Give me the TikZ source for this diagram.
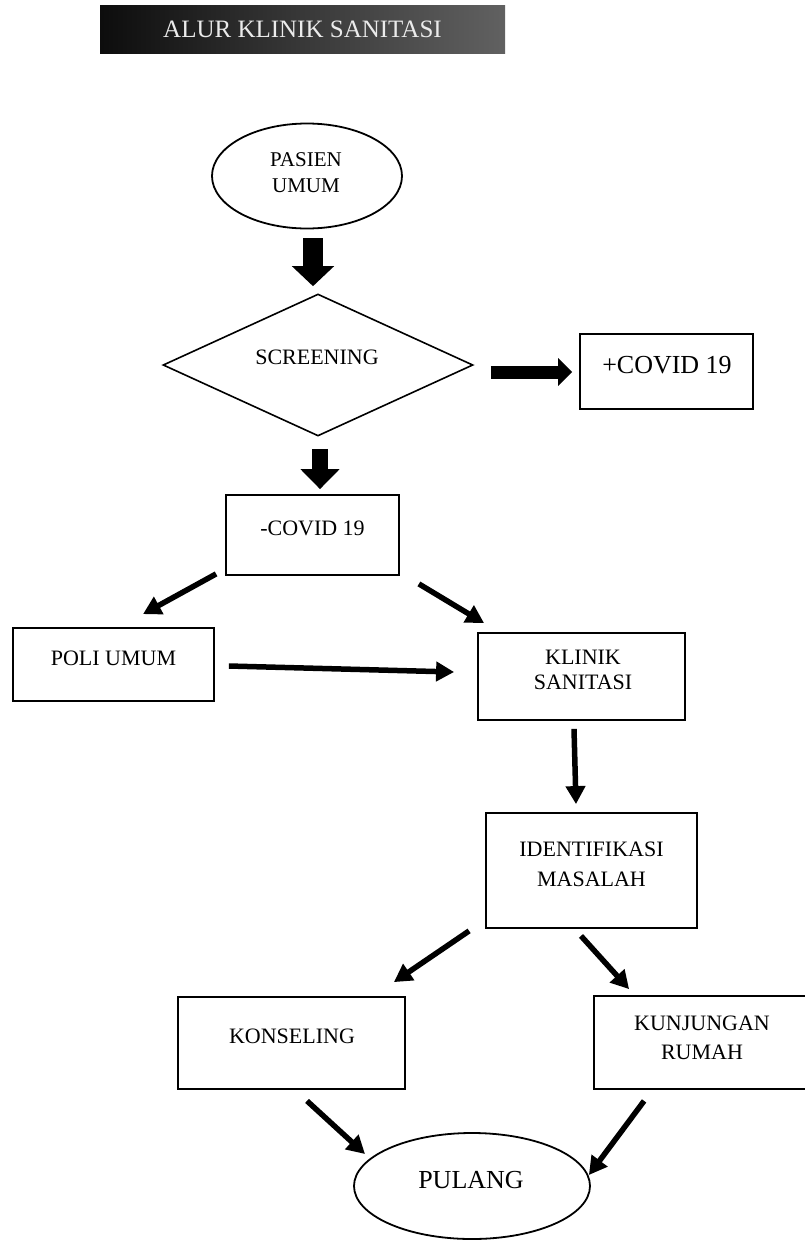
\documentclass[tikz,border=0pt]{standalone}
\usepackage{fontspec}
\setmainfont{Liberation Serif}
\usetikzlibrary{shapes.geometric,arrows.meta,calc}
\begin{document}
\begin{tikzpicture}[x=1pt,y=-1pt,
  box/.style={draw,line width=1.8pt,rectangle,inner sep=0pt},
  oval/.style={draw,line width=1.8pt,ellipse,inner sep=0pt},
  dia/.style={draw,line width=1.6pt,diamond,inner sep=0pt},
  lbl/.style={font=\fontsize{22}{30}\selectfont,align=center,inner sep=0pt},
  big/.style={font=\fontsize{26}{30}\selectfont,align=center,inner sep=0pt},
  thin/.style={line width=5.5pt,-{Triangle[length=18pt,width=19pt]}},
]
\fill[white] (0,0) rectangle (805,1240);
\useasboundingbox (0,0) rectangle (805,1240);

% title banner
\node[rectangle,inner sep=0pt,minimum width=405pt,minimum height=48pt,
      left color=black!95,right color=black!62,middle color=black!78,
      text=white!92!black,font=\fontsize{25}{30}\selectfont] (title) at (302.5,29) {ALUR KLINIK SANITASI};

% shapes
\node[oval,minimum width=190pt,minimum height=105pt] (pas) at (307,176) {};
\node[dia,minimum width=310pt,minimum height=142pt] (scr) at (318,365) {};
\node[box,minimum width=173pt,minimum height=75pt] (cp) at (666.5,371.5) {};
\node[box,minimum width=173pt,minimum height=80pt] (cm) at (312.5,535) {};
\node[box,minimum width=201pt,minimum height=73pt] (pu) at (113.5,664.5) {};
\node[box,minimum width=207pt,minimum height=87pt] (ks) at (581.5,676.5) {};
\node[box,minimum width=211pt,minimum height=115pt] (im) at (591.5,870.5) {};
\node[box,minimum width=227pt,minimum height=92pt] (ko) at (291.5,1043) {};
\node[box,minimum width=216pt,minimum height=93pt] (ku) at (702,1042.5) {};
\node[oval,minimum width=236pt,minimum height=106pt] (pl) at (472,1186) {};

% texts
\node[lbl,font=\fontsize{21}{26}\selectfont] (tpas) at ($(pas.center)+(-1,-3)$) {PASIEN\\UMUM};
\node[lbl] (tscr) at ($(scr.center)+(-1,-8)$) {SCREENING};
\node[big] (tcp) at ($(cp.center)+(0.5,-6.5)$) {+COVID 19};
\node[lbl] (tcm) at ($(cm.center)+(0,-7)$) {-COVID 19};
\node[lbl] (tpu) at ($(pu.center)+(0,-6.5)$) {POLI UMUM};
\node[lbl,font=\fontsize{22}{25}\selectfont] (tks) at ($(ks.center)+(1.5,-7)$) {KLINIK\\SANITASI};
\node[lbl] (tim) at ($(im.center)+(0,-6.5)$) {IDENTIFIKASI\\MASALAH};
\node[lbl] (tko) at ($(ko.center)+(0.5,-7)$) {KONSELING};
\node[lbl,font=\fontsize{22}{29}\selectfont] (tku) at ($(ku.center)+(0,-5)$) {KUNJUNGAN\\RUMAH};
\node[big] (tpl) at ($(pl.center)+(-1,-6)$) {PULANG};

% fat arrows
\draw[line width=20pt,-{Triangle[length=20pt,width=41pt]}]
  ($(pas.south)+(6,9)$) -- ($(scr.north)+(-5,-7)$);
\draw[line width=13pt,-{Triangle[length=14pt,width=27pt]}]
  ($(scr.east)+(17,7)$) -- ($(cp.west)+(-7,0.5)$);
\draw[line width=16pt,-{Triangle[length=20pt,width=38pt]}]
  ($(scr.south)+(2,12)$) -- ($(cm.north)+(7.5,-5)$);

% thin arrows
\draw[thin] ($(cm.south west)+(-9,-2)$) -- ($(pu.north)+(29.5,-13)$);
\draw[thin] ($(cm.south east)+(19,8)$) -- ($(ks.north west)+(7,-9)$);
\draw[thin] ($(pu.east)+(14,1.5)$) -- ($(ks.west)+(-23,-4.5)$);
\draw[thin] ($(ks.south)+(-7.5,8)$) -- ($(im.north)+(-15.5,-8)$);
\draw[thin] ($(im.south west)+(-16,2)$) -- ($(ko.north east)+(-12,-14)$);
\draw[thin] ($(im.south)+(-10.5,7)$) -- ($(ku.north west)+(36,-6)$);
\draw[thin] ($(ko.south)+(15.5,11)$) -- ($(pl.center)+(-107,-32)$);
\draw[thin] ($(ku.south west)+(51,11)$) -- ($(pl.east)+(-2,-11)$);
\end{tikzpicture}
\end{document}
